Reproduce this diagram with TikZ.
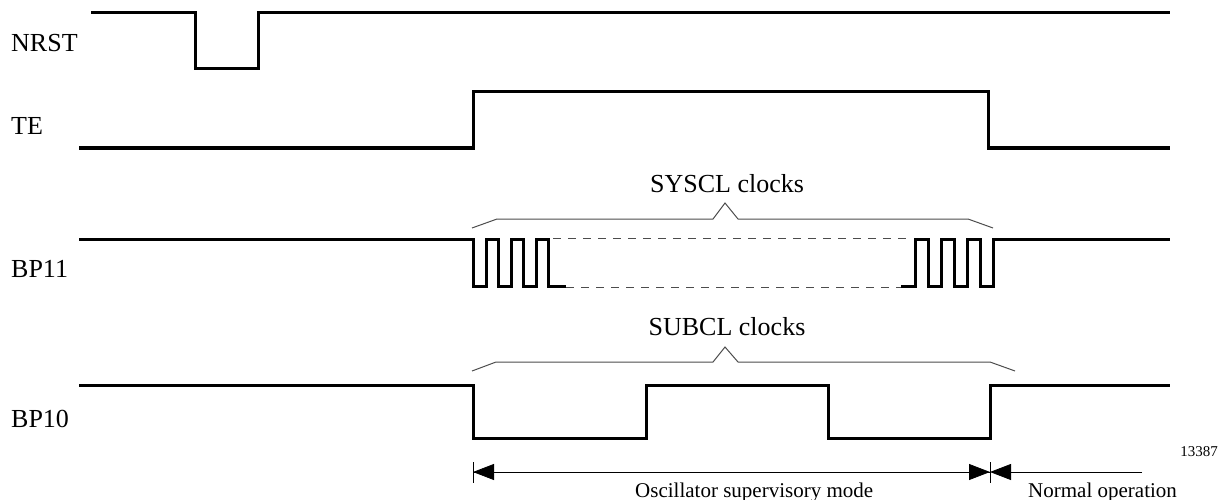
\documentclass[tikz,border=0pt]{standalone}
\usepackage{fontspec}
\setmainfont{Liberation Serif}
\usetikzlibrary{arrows.meta}
\begin{document}
\begin{tikzpicture}[x=1pt,y=-1pt,
  sig/.style={line width=3pt,line join=miter,line cap=rect},
  brace/.style={line width=1pt,draw=black!70},
  dashline/.style={line width=1pt,draw=black!70,dash pattern=on 8pt off 7pt},
  lbl/.style={anchor=west,inner sep=0pt,font=\fontsize{26}{30}\selectfont},
  clbl/.style={inner sep=0pt,font=\fontsize{26}{30}\selectfont},
  blbl/.style={inner sep=0pt,anchor=base west,font=\fontsize{21}{25}\selectfont},
  dim/.style={line width=0.8pt,-{Triangle[length=21pt,width=16pt]}},
  tick/.style={line width=0.8pt}]
\useasboundingbox (0,0) rectangle (1223,500);
% labels
\node[lbl] (nrst) at (11,43) {NRST};
\node[lbl] (te) at (11,126) {TE};
\node[lbl] (bp11) at (11,269) {BP11};
\node[lbl] (bp10) at (11,419) {BP10};
% NRST
\draw[sig] (92,13) -- (195,13) -- (195,69) -- (258,69) -- (258,13) -- (1168,13);
% TE
\draw[sig] (80,148) -- (473,148) -- (473,92) -- (988,92) -- (988,148) -- (1168,148);
% BP11
\draw[sig] (80,239) -- (473,239) -- (473,286) -- (486,286) -- (486,239) -- (498,239) -- (498,286)
  -- (511,286) -- (511,239) -- (523,239) -- (523,286) -- (536,286) -- (536,239) -- (548,239)
  -- (548,286) -- (564,286);
\draw[dashline] (566,287) -- (902,287);
\draw[dashline] (553,238) -- (912,238);
\draw[sig] (902,286) -- (915,286) -- (915,239) -- (928,239) -- (928,286) -- (941,286) -- (941,239)
  -- (954,239) -- (954,286) -- (967,286) -- (967,239) -- (980,239) -- (980,286) -- (993,286)
  -- (993,239) -- (1168,239);
% SYSCL brace
\draw[brace] (472,228) -- (497,219) -- (713,219) -- (725,203) -- (738,219) -- (968,219) -- (993,228);
\node[clbl] (sys) at (727,184) {SYSCL clocks};
% SUBCL brace
\draw[brace] (472,371) -- (496,362) -- (713,362) -- (725,347) -- (738,362) -- (990,362) -- (1015,371);
\node[clbl] (sub) at (727,327) {SUBCL clocks};
% BP10
\draw[sig] (80,385) -- (473,385) -- (473,438) -- (646,438) -- (646,385) -- (828,385) -- (828,438)
  -- (990,438) -- (990,385) -- (1168,385);
% bottom dimension
\coordinate (a) at (473,472);
\coordinate (b) at (990,472);
\coordinate (c) at (1142,472);
\draw[tick] (473,462) -- (473,483);
\draw[tick] (990,462) -- (990,483);
\draw[dim] (b) -- (a);
\draw[dim] (a) -- (b);
\draw[dim] (c) -- (b);
\node[blbl] (osc) at (635,497) {Oscillator supervisory mode};
\node[blbl] (norm) at (1028,497) {Normal operation};
\node[inner sep=0pt,anchor=east,font=\fontsize{15}{17}\selectfont] (num) at (1218,452) {13387};
\end{tikzpicture}
\end{document}
